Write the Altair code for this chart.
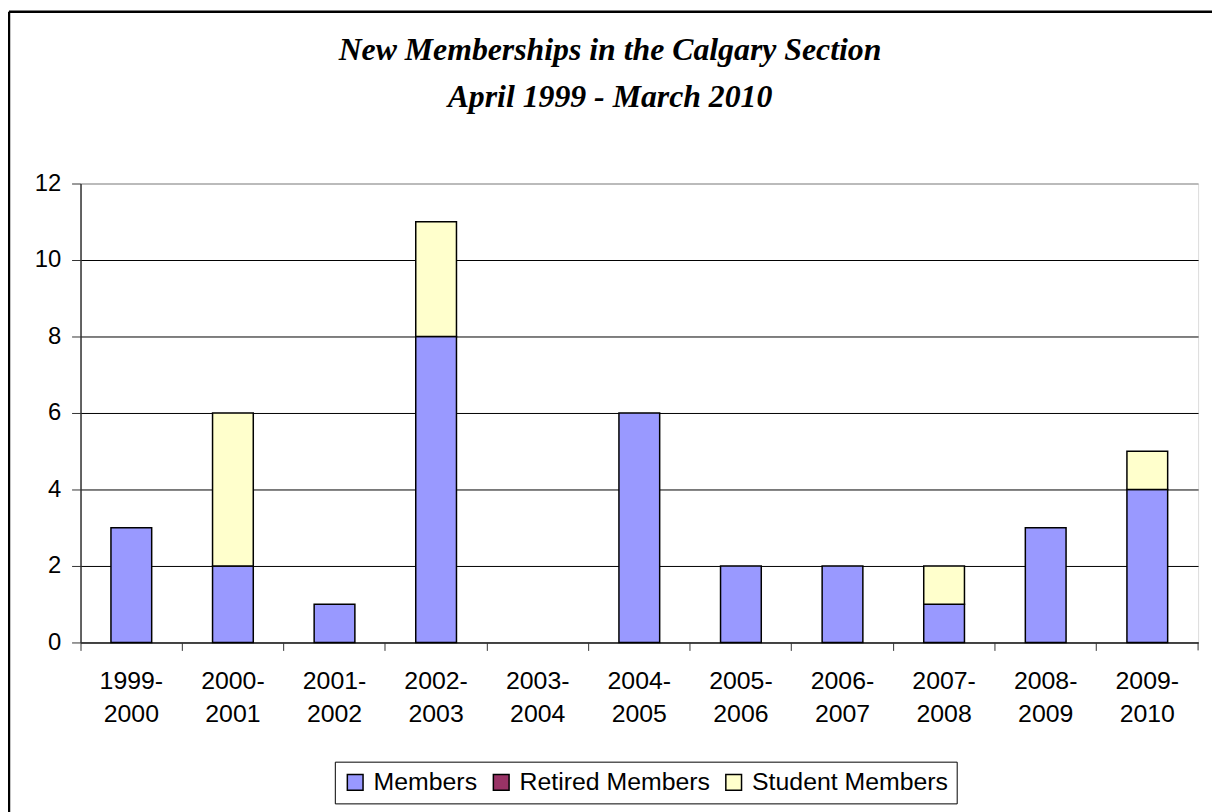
import altair as alt
import pandas as pd

periods = ["1999-2000", "2000-2001", "2001-2002", "2002-2003", "2003-2004", "2004-2005",
           "2005-2006", "2006-2007", "2007-2008", "2008-2009", "2009-2010"]
members = [3, 2, 1, 8, 0, 6, 2, 2, 1, 3, 4]
retired = [0, 0, 0, 0, 0, 0, 0, 0, 0, 0, 0]
students = [0, 4, 0, 3, 0, 0, 0, 0, 1, 0, 1]
series = ["Members", "Retired Members", "Student Members"]
colors = ["#9999FF", "#993366", "#FFFFCC"]
y_ticks = [0, 2, 4, 6, 8, 10, 12]
title_lines = ["New Memberships in the Calgary Section", "April 1999 - March 2010"]

rows = []
for i, p in enumerate(periods):
    for k, (s, vals) in enumerate(zip(series, [members, retired, students])):
        rows.append({"period": p, "series": s, "value": vals[i], "order": k})
df = pd.DataFrame(rows)

SANS = "Liberation Sans"
SERIF = "Liberation Serif"

bars = alt.Chart(df).transform_filter("datum.value > 0").mark_bar(
    stroke="black", strokeWidth=1.5, size=41
).encode(
    x=alt.X("period:N", sort=periods,
            scale=alt.Scale(domain=periods, paddingInner=0, paddingOuter=0),
            axis=alt.Axis(title=None, labelAngle=0, bandPosition=0, tickSize=8,
                          tickColor="#333333", domainColor="#333333", domainWidth=1.5,
                          labelFont=SANS, labelFontSize=25, labelColor="black",
                          labelLineHeight=34, labelPadding=18, labelBaseline="top",
                          labelExpr="[split(datum.label, '-')[0] + '-', split(datum.label, '-')[1]]",
                          grid=False)),
    y=alt.Y("value:Q", stack="zero",
            scale=alt.Scale(domain=[0, 12], nice=False),
            axis=alt.Axis(title=None, values=y_ticks, tickSize=9, labelPadding=11,
                          tickColor="#333333", domainColor="#333333", domainWidth=1.5,
                          labelFont=SANS, labelFontSize=24, labelColor="black",
                          grid=True, gridWidth=1,
                          gridColor={"condition": {"test": "datum.value == 12", "value": "#888888"}, "value": "black"})),
    color=alt.Color("series:N", scale=alt.Scale(domain=series, range=colors),
                    legend=alt.Legend(title=None, orient="none", legendX=256, legendY=582,
                                      direction="horizontal", strokeColor="black",
                                      padding=8, symbolType="square", symbolSize=250,
                                      symbolStrokeColor="black", symbolStrokeWidth=1.5,
                                      labelFont=SANS, labelFontSize=25, labelColor="black",
                                      labelLimit=400, labelOffset=6, columnPadding=11,
                                      fillColor="white")),
    order=alt.Order("order:Q"),
)

one = alt.Data(values=[{}])
frame = alt.Chart(one).mark_rule(color="black", strokeWidth=2.5).encode(
    x=alt.value(-72), y=alt.value(-173), y2=alt.value(700)
)
frame_top = alt.Chart(one).mark_rule(color="black", strokeWidth=2.5).encode(
    x=alt.value(-72), x2=alt.value(1200), y=alt.value(-173)
)
end_tick = alt.Chart(one).mark_rule(color="#333333", strokeWidth=1).encode(
    x=alt.value(1125), y=alt.value(462), y2=alt.value(470)
)

title1 = alt.Chart(alt.Data(values=[{"t": title_lines[0]}])).mark_text(
    font=SERIF, fontSize=32, fontWeight="bold", fontStyle="italic", color="black",
    align="center", baseline="alphabetic"
).encode(text="t:N", x=alt.value(533), y=alt.value(-124))
title2 = alt.Chart(alt.Data(values=[{"t": title_lines[1]}])).mark_text(
    font=SERIF, fontSize=32, fontWeight="bold", fontStyle="italic", color="black",
    align="center", baseline="alphabetic"
).encode(text="t:N", x=alt.value(533), y=alt.value(-77))

chart = alt.layer(bars, frame, frame_top, end_tick, title1, title2).properties(
    width=1125, height=462,
    autosize=alt.AutoSizeParams(type="none"),
    padding={"left": 73, "top": 174, "right": 14, "bottom": 170},
).configure_view(stroke="#888888", strokeWidth=2).configure(background="white")

chart.save("out.html", embed_options={"renderer": "svg", "actions": False})
